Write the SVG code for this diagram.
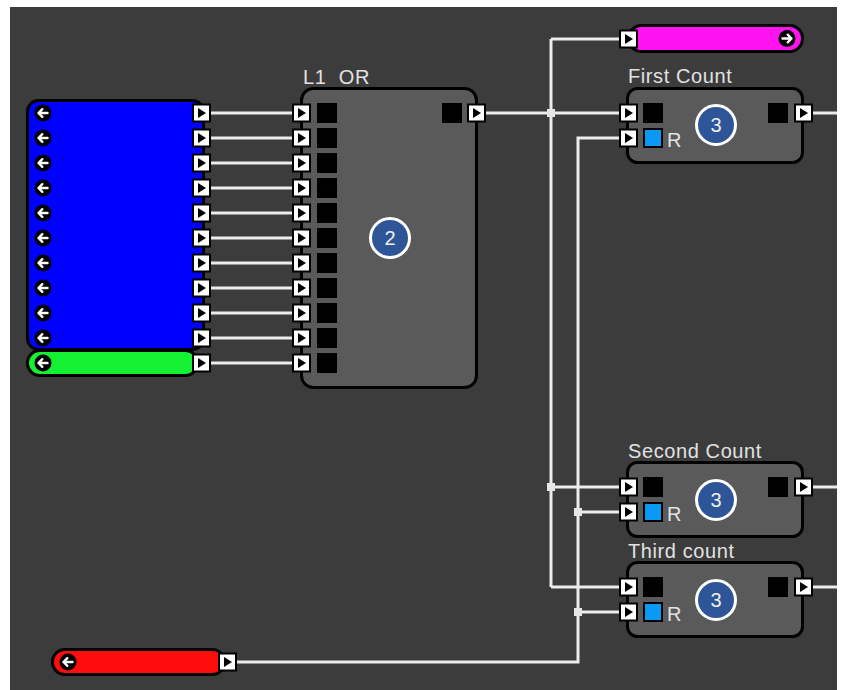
<svg xmlns="http://www.w3.org/2000/svg" xmlns:xlink="http://www.w3.org/1999/xlink" width="843" height="690" viewBox="0 0 843 690">
<style>
.wire{stroke:#ececec;stroke-width:3;fill:none}
.jn{fill:#e6e6e6}
.body{fill:#5a5a5a;stroke:#000;stroke-width:3}
.lbl{font-family:"Liberation Sans",Arial,sans-serif;font-size:20px;letter-spacing:0.6px;fill:#e2e2e2}
.badge{fill:#2e5597;stroke:#fff;stroke-width:3}
.bnum{font-family:"Liberation Sans",Arial,sans-serif;font-size:20px;fill:#eeeeee;text-anchor:middle}
.sq{fill:#000}
.rsq{fill:#0a9af5;stroke:#000;stroke-width:2}
</style>
<defs>
<g id="port"><rect x="0" y="-8.5" width="17" height="17" fill="#fff" stroke="#000" stroke-width="2"/><path d="M5,-5 L13,0 L5,5 Z" fill="#000"/></g>
<g id="larr"><circle r="8.5" fill="#000"/><path d="M4.5,0 H-4.5 M-0.7,-3.8 L-4.5,0 L-0.7,3.8" stroke="#fff" stroke-width="2.4" fill="none" stroke-linecap="round" stroke-linejoin="round"/></g>
<g id="rarr"><circle r="8.5" fill="#000"/><path d="M-4.5,0 H4.5 M0.7,-3.8 L4.5,0 L0.7,3.8" stroke="#fff" stroke-width="2.4" fill="none" stroke-linecap="round" stroke-linejoin="round"/></g>
</defs>
<rect x="10" y="7" width="827" height="683" fill="#3c3c3c"/>

<g id="connectors">
<path class="wire" d="M210,113H293 M210,138H293 M210,163H293 M210,188H293 M210,213H293 M210,238H293 M210,263H293 M210,288H293 M210,313H293 M210,338H293 M210,363H293"/>
<path class="wire" d="M485,113H620 M551,39V587 M551,39H620 M551,487H620 M551,587H620"/>
<path class="wire" d="M236,662H578V138H620 M578,512H620 M578,612H620"/>
<path class="wire" d="M812,113H837 M812,487H837 M812,587H837"/>
<rect class="jn" x="547" y="109" width="8" height="8"/>
<rect class="jn" x="547" y="483" width="8" height="8"/>
<rect class="jn" x="574" y="508" width="8" height="8"/>
<rect class="jn" x="574" y="608" width="8" height="8"/>
</g>

<g id="inputs-blue">
<rect x="27.5" y="100.5" width="176" height="249" rx="11" fill="#0000ff" stroke="#000" stroke-width="3"/>
<use href="#larr" x="43" y="113"/><use href="#larr" x="43" y="138"/><use href="#larr" x="43" y="163"/><use href="#larr" x="43" y="188"/><use href="#larr" x="43" y="213"/><use href="#larr" x="43" y="238"/><use href="#larr" x="43" y="263"/><use href="#larr" x="43" y="288"/><use href="#larr" x="43" y="313"/><use href="#larr" x="43" y="338"/>
<use href="#port" x="193" y="113"/><use href="#port" x="193" y="138"/><use href="#port" x="193" y="163"/><use href="#port" x="193" y="188"/><use href="#port" x="193" y="213"/><use href="#port" x="193" y="238"/><use href="#port" x="193" y="263"/><use href="#port" x="193" y="288"/><use href="#port" x="193" y="313"/><use href="#port" x="193" y="338"/>
</g>

<g id="input-green">
<rect x="27.5" y="350.5" width="170" height="25" rx="12.5" fill="#14f032" stroke="#000" stroke-width="3"/>
<use href="#larr" x="43" y="363"/>
<use href="#port" x="193" y="363"/>
</g>

<g id="or-block">
<text class="lbl" x="303" y="84" xml:space="preserve">L1  OR</text>
<rect class="body" x="301.5" y="88.5" width="175" height="299" rx="12"/>
<rect class="sq" x="317" y="103" width="20" height="20"/><rect class="sq" x="317" y="128" width="20" height="20"/><rect class="sq" x="317" y="153" width="20" height="20"/><rect class="sq" x="317" y="178" width="20" height="20"/><rect class="sq" x="317" y="203" width="20" height="20"/><rect class="sq" x="317" y="228" width="20" height="20"/><rect class="sq" x="317" y="253" width="20" height="20"/><rect class="sq" x="317" y="278" width="20" height="20"/><rect class="sq" x="317" y="303" width="20" height="20"/><rect class="sq" x="317" y="328" width="20" height="20"/><rect class="sq" x="317" y="353" width="20" height="20"/>
<use href="#port" x="293" y="113"/><use href="#port" x="293" y="138"/><use href="#port" x="293" y="163"/><use href="#port" x="293" y="188"/><use href="#port" x="293" y="213"/><use href="#port" x="293" y="238"/><use href="#port" x="293" y="263"/><use href="#port" x="293" y="288"/><use href="#port" x="293" y="313"/><use href="#port" x="293" y="338"/><use href="#port" x="293" y="363"/>
<rect class="sq" x="442" y="103" width="20" height="20"/>
<use href="#port" x="468" y="113"/>
<circle class="badge" cx="390" cy="238" r="19.5"/>
<text class="bnum" x="390" y="245">2</text>
</g>

<g id="output-magenta">
<rect x="628.5" y="25.5" width="174" height="26" rx="13" fill="#ff14f0" stroke="#000" stroke-width="3"/>
<use href="#rarr" x="787" y="38.5"/>
<use href="#port" x="620" y="39"/>
</g>

<g id="first-count">
<text class="lbl" x="628" y="83">First Count</text>
<rect class="body" x="627.5" y="88.5" width="175" height="74" rx="10"/>
<use href="#port" x="620" y="113"/><use href="#port" x="620" y="138"/>
<rect class="sq" x="643" y="103" width="20" height="20"/>
<rect class="rsq" x="644" y="129" width="18" height="18"/>
<text class="lbl" x="667" y="147">R</text>
<rect class="sq" x="768" y="103" width="20" height="20"/>
<use href="#port" x="795" y="113"/>
<circle class="badge" cx="716" cy="125" r="19.5"/>
<text class="bnum" x="716" y="132">3</text>
</g>

<g id="second-count">
<text class="lbl" x="628" y="458">Second Count</text>
<rect class="body" x="627.5" y="462.5" width="175" height="74" rx="10"/>
<use href="#port" x="620" y="487"/><use href="#port" x="620" y="512"/>
<rect class="sq" x="643" y="477" width="20" height="20"/>
<rect class="rsq" x="644" y="503" width="18" height="18"/>
<text class="lbl" x="667" y="521">R</text>
<rect class="sq" x="768" y="477" width="20" height="20"/>
<use href="#port" x="795" y="487"/>
<circle class="badge" cx="716" cy="500" r="19.5"/>
<text class="bnum" x="716" y="507">3</text>
</g>

<g id="third-count">
<text class="lbl" x="628" y="558">Third count</text>
<rect class="body" x="627.5" y="562.5" width="175" height="74" rx="10"/>
<use href="#port" x="620" y="587"/><use href="#port" x="620" y="612"/>
<rect class="sq" x="643" y="577" width="20" height="20"/>
<rect class="rsq" x="644" y="603" width="18" height="18"/>
<text class="lbl" x="667" y="621">R</text>
<rect class="sq" x="768" y="577" width="20" height="20"/>
<use href="#port" x="795" y="587"/>
<circle class="badge" cx="716" cy="600" r="19.5"/>
<text class="bnum" x="716" y="607">3</text>
</g>

<g id="input-red">
<rect x="52.5" y="649.5" width="172" height="25" rx="12.5" fill="#ff0c0c" stroke="#000" stroke-width="3"/>
<use href="#larr" x="68" y="662"/>
<use href="#port" x="219" y="662"/>
</g>
</svg>
